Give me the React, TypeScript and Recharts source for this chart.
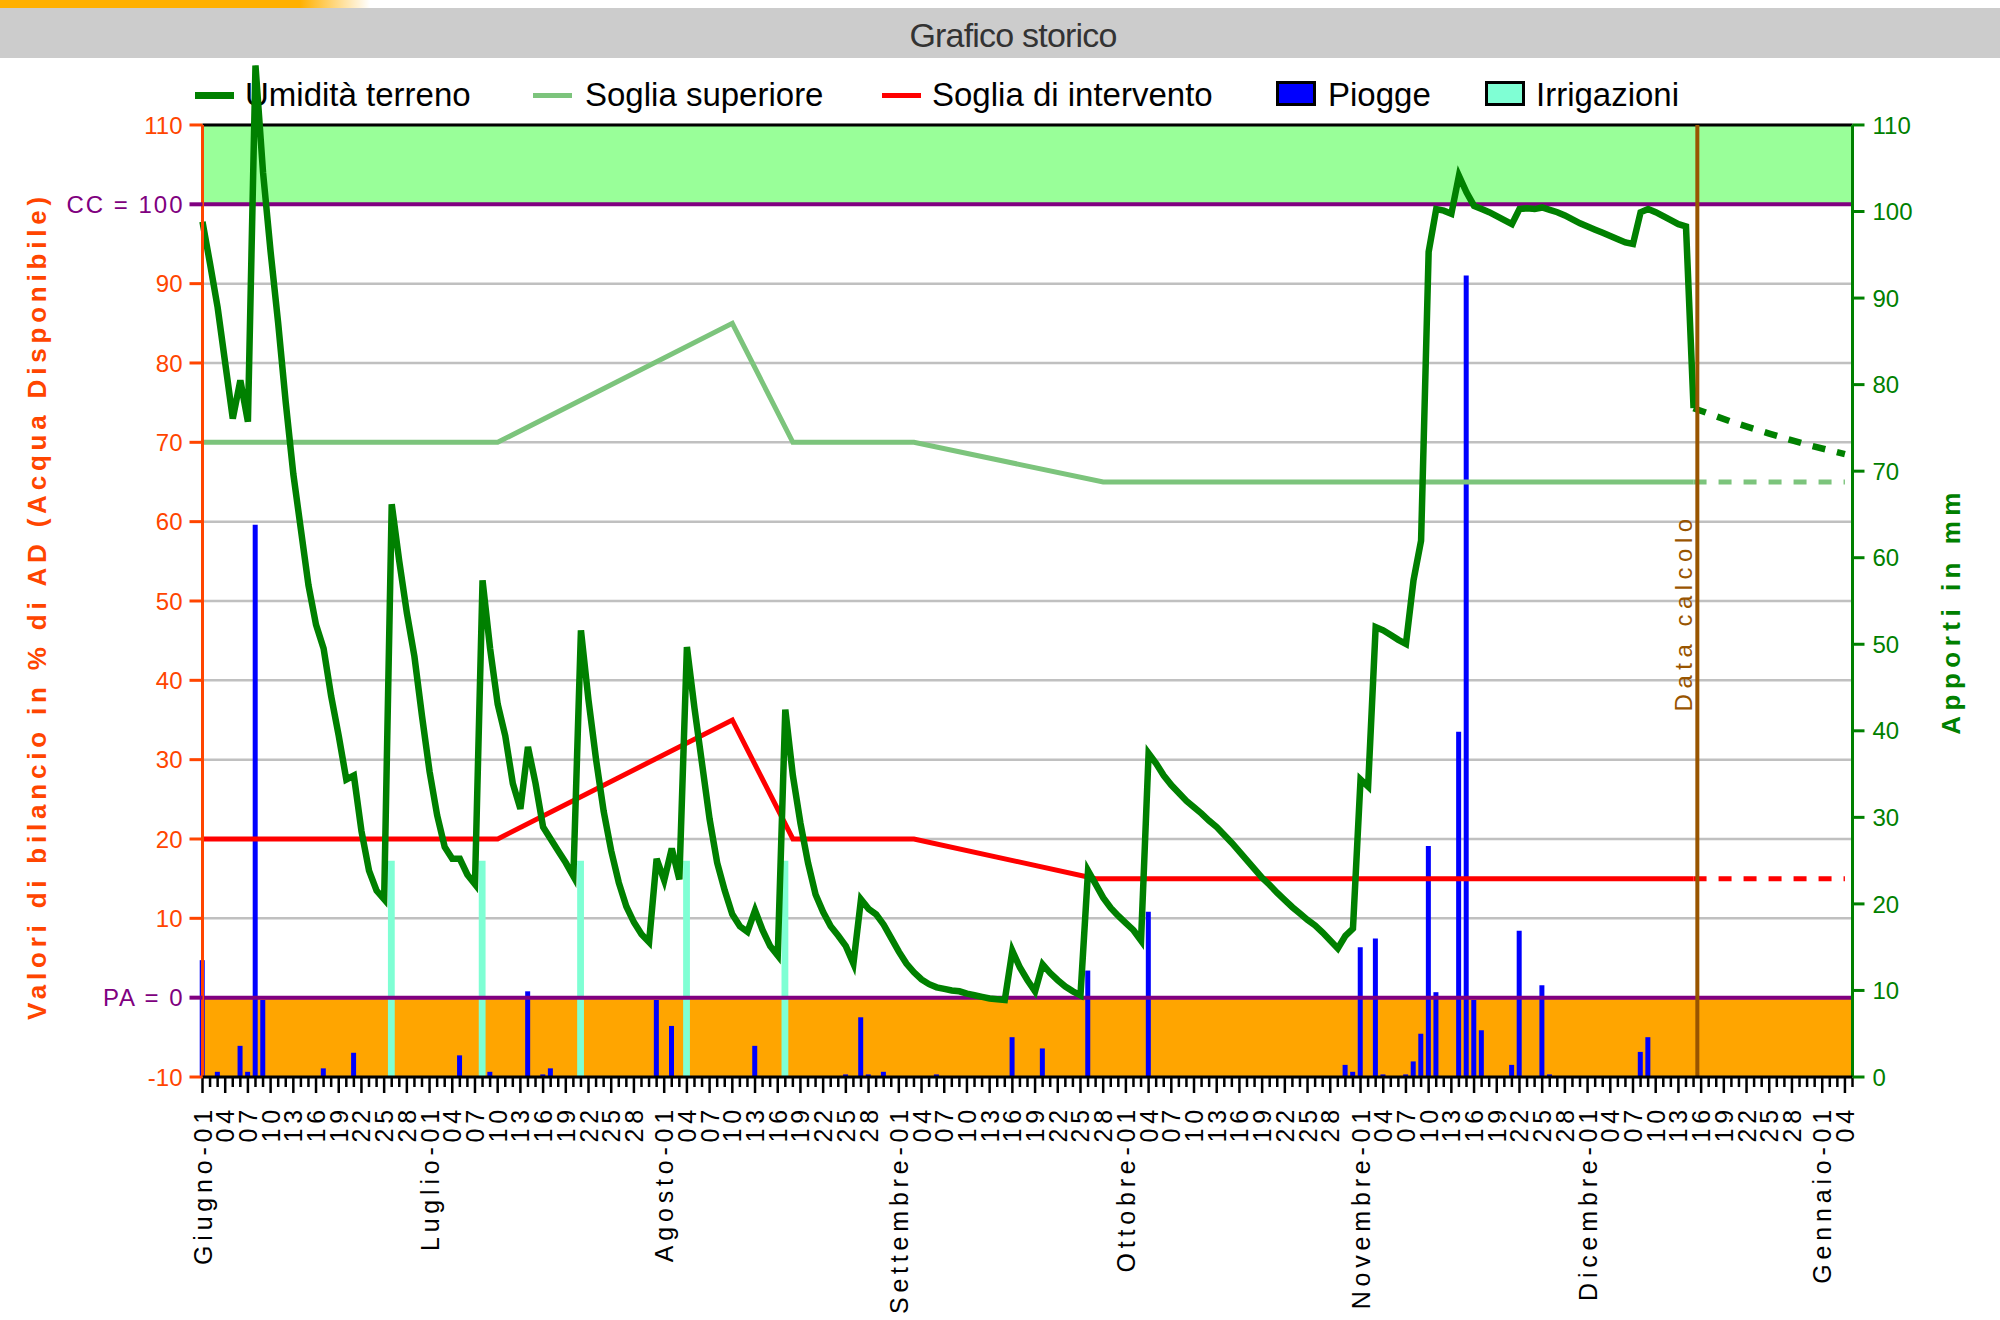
import React from 'react';
import {
  ComposedChart,
  Line,
  Bar,
  XAxis,
  YAxis,
  CartesianGrid,
  ReferenceLine,
  ReferenceArea,
} from 'recharts';

// ---------------- data ----------------
const monthNames = ['Giugno', 'Luglio', 'Agosto', 'Settembre', 'Ottobre', 'Novembre', 'Dicembre', 'Gennaio'];
const monthLengths = [30, 31, 31, 30, 31, 30, 31, 5];

// Umidità terreno, one value per day from Giugno-01 (day 0) to the calculation date
const moisture = [
  97.8, 92.5, 87, 80, 73, 77.8, 72.6, 117.5, 104, 94,
  85, 75, 66, 59, 52, 47, 44, 38, 33, 27.5,
  28, 21, 16, 13.5, 12.4, 62.2, 55, 48.5, 43, 35.5,
  28.5, 23, 19, 17.5, 17.5, 15.5, 14.3, 52.6, 44, 37,
  33, 27, 23.8, 31.6, 27, 21.5, 20, 18.5, 17, 15.3,
  46.3, 37.5, 30, 23.5, 18.5, 14.5, 11.5, 9.5, 8, 7,
  17.5, 14.8, 18.8, 14.9, 44.2, 36.5, 29.5, 22.5, 17, 13.5,
  10.5, 9, 8.3, 11, 8.5, 6.5, 5.3, 36.3, 28, 22,
  17, 13, 10.8, 9, 7.8, 6.5, 4.3, 12.4, 11.2, 10.5,
  9.2, 7.5, 5.8, 4.3, 3.2, 2.3, 1.7, 1.3, 1.1, 0.9,
  0.8, 0.5, 0.3, 0.1, -0.1, -0.2, -0.3, 5.9, 3.8, 2.2,
  0.8, 4.2, 3.1, 2.2, 1.4, 0.8, 0.3, 16, 14.3, 12.6,
  11.3, 10.3, 9.4, 8.5, 7.2, 30.8, 29.5, 28, 26.8, 25.8,
  24.8, 24, 23.2, 22.3, 21.5, 20.5, 19.5, 18.4, 17.3, 16.2,
  15.1, 14.2, 13.2, 12.3, 11.4, 10.6, 9.8, 9.1, 8.2, 7.2,
  6.2, 7.8, 8.7, 27.5, 26.6, 46.7, 46.3, 45.7, 45.1, 44.6,
  52.6, 57.6, 94, 99.4, 99.2, 98.8, 103.6, 101.5, 99.8, 99.4,
  99, 98.5, 98, 97.5, 99.4, 99.5, 99.4, 99.6, 99.3, 99,
  98.6, 98.1, 97.6, 97.2, 96.8, 96.4, 96, 95.6, 95.2, 95,
  99, 99.4, 99, 98.5, 98, 97.5, 97.2, 74.3,
];

// forecast after "Data calcolo"
const forecastDays = [197, 202, 207, 212, 217];
const forecastValues = [74.3, 72.6, 71.1, 69.7, 68.5];

// Soglia superiore
const upperDays = [0, 39, 70, 78, 94, 119, 197];
const upperValues = [70, 70, 85, 70, 70, 65, 65];
const upperForecastDays = [197, 217];
const upperForecastValues = [65, 65];

// Soglia di intervento
const interventionDays = [0, 39, 70, 78, 94, 118, 197];
const interventionValues = [20, 20, 35, 20, 20, 15, 15];
const interventionForecastDays = [197, 217];
const interventionForecastValues = [15, 15];

// Piogge (mm)
const rainDays = [
  0, 2, 5, 6, 7, 8, 16, 20, 34, 38, 43, 45, 46, 60, 62, 73, 85, 87, 88, 90, 97,
  107, 111, 117, 125, 151, 152, 153, 155, 156, 159, 160, 161, 162, 163, 166, 167,
  168, 169, 173, 174, 177, 178, 190, 191,
];
const rainMm = [
  13.5, 0.6, 3.6, 0.6, 63.8, 8.9, 1.0, 2.8, 2.5, 0.6, 9.9, 0.3, 1.0, 8.9, 5.9, 3.6, 0.3, 6.9, 0.3, 0.6, 0.3,
  4.6, 3.3, 12.3, 19.1, 1.4, 0.6, 15, 16, 0.3, 0.3, 1.8, 5, 26.7, 9.8, 39.9, 92.6,
  8.9, 5.4, 1.4, 16.9, 10.6, 0.3, 2.9, 4.6,
];

// Irrigazioni (mm)
const irrigationDays = [25, 37, 50, 64, 77];
const irrigationMm = [25, 25, 25, 25, 25];

const dataCalcoloDay = 197.5;
const leftTicks = [-10, 0, 10, 20, 30, 40, 50, 60, 70, 80, 90, 100, 110];
const rightTicks = [0, 10, 20, 30, 40, 50, 60, 70, 80, 90, 100, 110];
const CC_VALUE = 100;
const PA_VALUE = 0;

// ---------------- scales / helpers ----------------
const LEFT_MIN = -10;
const LEFT_TOP = 110;
const LEFT_MAX = 118; // head-room for the June peak that pokes above the frame
const RIGHT_TOP = 110;
const RIGHT_MAX = (RIGHT_TOP * (LEFT_MAX - LEFT_MIN)) / (LEFT_TOP - LEFT_MIN);

const FONT = "'Liberation Sans', Arial, sans-serif";
const ORANGE = '#FF4500';
const PURPLE = '#800080';
const GREEN = '#008000';
const LIGHT_GREEN = '#7CC47C';
const RED = '#FF0000';
const BLUE = '#0000FF';
const AQUA = '#7FFFD4';
const BROWN = '#995500';

const dayLabels: (string | null)[] = [];
monthLengths.forEach((len, m) => {
  for (let dom = 1; dom <= len; dom++) {
    if (dom === 1) dayLabels.push(`${monthNames[m]}-01`);
    else if ((dom - 1) % 3 === 0 && dom <= 28) dayLabels.push(String(dom).padStart(2, '0'));
    else dayLabels.push(null);
  }
});
const dayTicks = dayLabels.map((_, i) => i);
const lastDay = dayTicks.length - 1;

type Row = { [k: string]: number | null };
const rows: Row[] = dayTicks.map((d) => ({
  day: d,
  moist: d < moisture.length ? moisture[d] : null,
  fcst: null,
  sup: null,
  supFc: null,
  int: null,
  intFc: null,
  rain: null,
  irr: null,
}));
const put = (days: number[], values: number[], key: string) =>
  days.forEach((d, k) => {
    rows[d][key] = values[k];
  });
put(forecastDays, forecastValues, 'fcst');
put(upperDays, upperValues, 'sup');
put(upperForecastDays, upperForecastValues, 'supFc');
put(interventionDays, interventionValues, 'int');
put(interventionForecastDays, interventionForecastValues, 'intFc');
put(rainDays, rainMm, 'rain');
put(irrigationDays, irrigationMm, 'irr');

// ---------------- custom ticks & labels ----------------
const XTick = (props: any) => {
  const { x, y, payload } = props;
  const lbl = dayLabels[payload.value];
  return (
    <g>
      <line x1={x} x2={x} y1={y + 1} y2={y + (lbl ? 16 : 10)} stroke="#000" strokeWidth={2.5} />
      {lbl ? (
        <text
          transform={`translate(${x},${y + 28}) rotate(-90)`}
          x={0}
          y={0}
          dy={9}
          textAnchor="end"
          fontFamily={FONT}
          fontSize={25}
          letterSpacing={4.8}
          fill="#000"
        >
          {lbl}
        </text>
      ) : null}
    </g>
  );
};

const LeftTick = (props: any) => {
  const { x, y, payload } = props;
  const v = payload.value;
  const special = v === CC_VALUE || v === PA_VALUE;
  const color = special ? PURPLE : ORANGE;
  const txt = v === CC_VALUE ? `CC = ${CC_VALUE}` : v === PA_VALUE ? `PA = ${PA_VALUE}` : String(v);
  return (
    <g>
      <line x1={x + 7} x2={x + 20} y1={y} y2={y} stroke={color} strokeWidth={special ? 4 : 3} />
      <text
        x={x + (special ? 2 : 0)}
        y={y}
        dy="0.36em"
        textAnchor="end"
        fontFamily={FONT}
        fontSize={24}
        letterSpacing={special ? 2 : 0}
        fill={color}
      >
        {txt}
      </text>
    </g>
  );
};

const RightTick = (props: any) => {
  const { x, y, payload } = props;
  return (
    <g>
      <line x1={x - 20} x2={x - 8} y1={y} y2={y} stroke={GREEN} strokeWidth={3} />
      <text x={x} y={y} dy="0.36em" textAnchor="start" fontFamily={FONT} fontSize={24} fill={GREEN}>
        {payload.value}
      </text>
    </g>
  );
};

const LeftTitle = (props: any) => {
  const vb = props.viewBox;
  return (
    <text
      transform={`translate(${vb.x + 33},${vb.y + vb.height * 0.5362}) rotate(-90)`}
      textAnchor="middle"
      fontFamily={FONT}
      fontWeight="bold"
      fontSize={26}
      letterSpacing={4.8}
      fill={ORANGE}
    >
      Valori di bilancio in % di AD (Acqua Disponibile)
    </text>
  );
};

const RightTitle = (props: any) => {
  const vb = props.viewBox;
  return (
    <text
      transform={`translate(${vb.x + 107},${vb.y + vb.height * 0.541}) rotate(-90)`}
      textAnchor="middle"
      fontFamily={FONT}
      fontWeight="bold"
      fontSize={26}
      letterSpacing={5.5}
      fill={GREEN}
    >
      Apporti in mm
    </text>
  );
};

const DataCalcoloLabel = (props: any) => {
  const vb = props.viewBox;
  return (
    <text
      transform={`translate(${vb.x - 5},${vb.y + vb.height * 0.512}) rotate(-90)`}
      textAnchor="middle"
      fontFamily={FONT}
      fontSize={24}
      letterSpacing={5.5}
      fill={BROWN}
    >
      Data calcolo
    </text>
  );
};

// ---------------- legend (html) ----------------
const legendItems = [
  { name: 'Umidità terreno', kind: 'line', color: GREEN, thick: 7, sx: 195, tx: 245 },
  { name: 'Soglia superiore', kind: 'line', color: LIGHT_GREEN, thick: 5, sx: 533, tx: 585 },
  { name: 'Soglia di intervento', kind: 'line', color: RED, thick: 5, sx: 882, tx: 932 },
  { name: 'Piogge', kind: 'box', color: BLUE, thick: 0, sx: 1276, tx: 1328 },
  { name: 'Irrigazioni', kind: 'box', color: AQUA, thick: 0, sx: 1485, tx: 1536 },
];

const Header = () => (
  <>
    <div
      style={{
        position: 'absolute',
        left: 0,
        top: 0,
        width: 370,
        height: 8,
        background: 'linear-gradient(to right, #FFB000 0%, #FFB000 81%, rgba(255,255,255,0) 100%)',
      }}
    />
    <div style={{ position: 'absolute', left: 0, top: 8, width: 2000, height: 50, background: '#CCCCCC' }} />
    <div
      style={{
        position: 'absolute',
        left: 0,
        top: 18,
        width: 2026,
        textAlign: 'center',
        fontFamily: FONT,
        fontSize: 34,
        lineHeight: '34px',
        letterSpacing: -0.8,
        color: '#333333',
      }}
    >
      Grafico storico
    </div>
    {legendItems.map((it) => (
      <React.Fragment key={it.name}>
        {it.kind === 'line' ? (
          <div
            style={{
              position: 'absolute',
              left: it.sx,
              top: 95 - it.thick / 2,
              width: 39,
              height: it.thick,
              background: it.color,
            }}
          />
        ) : (
          <div
            style={{
              position: 'absolute',
              left: it.sx,
              top: 81,
              width: 40,
              height: 25,
              boxSizing: 'border-box',
              border: '3px solid #000',
              background: it.color,
            }}
          />
        )}
        <div
          style={{
            position: 'absolute',
            left: it.tx,
            top: 78,
            fontFamily: FONT,
            fontSize: 33,
            lineHeight: '33px',
            color: '#000',
            whiteSpace: 'nowrap',
          }}
        >
          {it.name}
        </div>
      </React.Fragment>
    ))}
  </>
);

export default function App() {
  return (
    <div style={{ position: 'absolute', left: 0, top: 0, width: 2000, height: 1320, background: '#fff' }}>
      <Header />
      <div style={{ position: 'absolute', left: 0, top: 0 }}>
        <ComposedChart
          width={2000}
          height={1320}
          data={rows}
          margin={{ top: 61.5, right: 7.5, bottom: 13, left: 12.5 }}
        >
          <XAxis
            xAxisId="x"
            dataKey="day"
            type="number"
            domain={[0, lastDay]}
            ticks={dayTicks}
            interval={0}
            tick={XTick}
            tickLine={false}
            tickSize={0}
            tickMargin={0}
            axisLine={{ stroke: '#000', strokeWidth: 3 }}
            height={230}
            allowDecimals={false}
          />
          <XAxis xAxisId="x2" dataKey="day" type="number" domain={[0, lastDay]} ticks={dayTicks} hide />
          <YAxis
            yAxisId="left"
            orientation="left"
            type="number"
            domain={[LEFT_MIN, LEFT_MAX]}
            ticks={leftTicks}
            interval={0}
            width={190}
            tickSize={13}
            tickMargin={7}
            tickLine={false}
            axisLine={false}
            tick={LeftTick}
            label={LeftTitle}
          />
          <YAxis
            yAxisId="right"
            orientation="right"
            type="number"
            domain={[0, RIGHT_MAX]}
            ticks={rightTicks}
            interval={0}
            width={140}
            tickSize={12}
            tickMargin={8}
            tickLine={false}
            axisLine={false}
            tick={RightTick}
            label={RightTitle}
          />
          <CartesianGrid
            xAxisId="x"
            yAxisId="left"
            vertical={false}
            syncWithTicks
            stroke="#C0C0C0"
            strokeWidth={2.5}
          />

          <ReferenceArea xAxisId="x" yAxisId="left" y1={CC_VALUE} y2={LEFT_TOP} fill="#99FF99" fillOpacity={1} stroke="none" />
          <ReferenceArea xAxisId="x" yAxisId="left" y1={LEFT_MIN} y2={PA_VALUE} fill="#FFA500" fillOpacity={1} stroke="none" />

          <Bar xAxisId="x" yAxisId="right" dataKey="rain" fill={BLUE} barSize={5} isAnimationActive={false} />
          <Bar xAxisId="x2" yAxisId="right" dataKey="irr" fill={AQUA} barSize={8} isAnimationActive={false} />

          <ReferenceLine xAxisId="x" yAxisId="left" y={LEFT_TOP} stroke="#000" strokeWidth={3} />
          <ReferenceLine xAxisId="x" yAxisId="left" y={CC_VALUE} stroke={PURPLE} strokeWidth={4} />
          <ReferenceLine xAxisId="x" yAxisId="left" y={PA_VALUE} stroke={PURPLE} strokeWidth={4} />

          <Line xAxisId="x" yAxisId="left" dataKey="sup" stroke={LIGHT_GREEN} strokeWidth={5} dot={false} connectNulls isAnimationActive={false} />
          <Line xAxisId="x" yAxisId="left" dataKey="supFc" stroke={LIGHT_GREEN} strokeWidth={5} strokeDasharray="13 12" dot={false} connectNulls isAnimationActive={false} />
          <Line xAxisId="x" yAxisId="left" dataKey="int" stroke={RED} strokeWidth={5} dot={false} connectNulls isAnimationActive={false} />
          <Line xAxisId="x" yAxisId="left" dataKey="intFc" stroke={RED} strokeWidth={5} strokeDasharray="13 12" dot={false} connectNulls isAnimationActive={false} />
          <Line xAxisId="x" yAxisId="left" dataKey="moist" stroke={GREEN} strokeWidth={6.5} dot={false} isAnimationActive={false} />
          <Line xAxisId="x" yAxisId="left" dataKey="fcst" stroke={GREEN} strokeWidth={6.5} strokeDasharray="13 12" dot={false} connectNulls isAnimationActive={false} />

          <ReferenceLine
            xAxisId="x"
            yAxisId="left"
            segment={[{ x: dataCalcoloDay, y: LEFT_MIN }, { x: dataCalcoloDay, y: LEFT_TOP }]}
            stroke={BROWN}
            strokeWidth={4}
            label={DataCalcoloLabel}
          />
          <ReferenceLine
            xAxisId="x"
            yAxisId="left"
            segment={[{ x: 0, y: LEFT_MIN }, { x: 0, y: LEFT_TOP }]}
            stroke={ORANGE}
            strokeWidth={3}
          />
          <ReferenceLine
            xAxisId="x"
            yAxisId="left"
            segment={[{ x: lastDay, y: LEFT_MIN }, { x: lastDay, y: LEFT_TOP }]}
            stroke={GREEN}
            strokeWidth={3}
          />
        </ComposedChart>
      </div>
    </div>
  );
}
